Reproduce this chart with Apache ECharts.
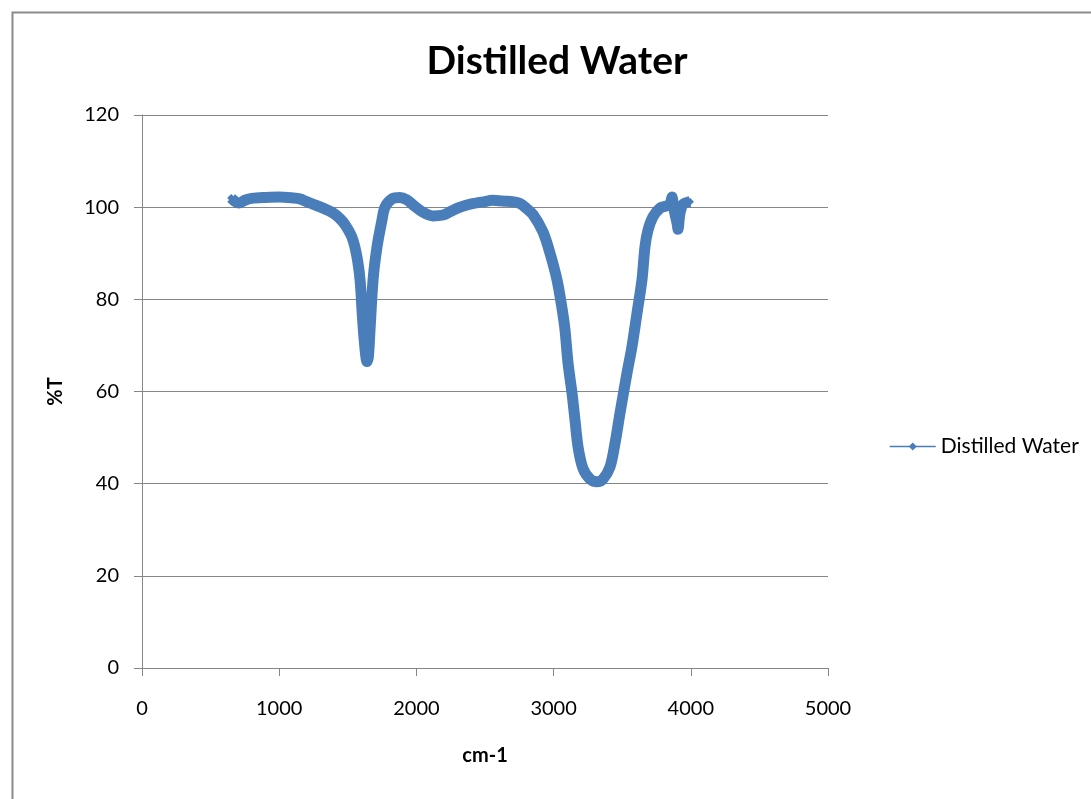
<!DOCTYPE html>
<html>
<head>
<meta charset="utf-8">
<script src="https://cdn.jsdelivr.net/npm/echarts@6/dist/echarts.min.js"></script>
<style>
html,body{margin:0;padding:0;background:#fff;}
#chart{width:1091px;height:799px;}
</style>
</head>
<body>
<div id="chart"></div>
<script>
const titleText = "Distilled Water";
const seriesName = "Distilled Water";
const xName = "cm-1";
const yName = "%T";
const wavenumber = [650,680,710,750,800,900,1000,1100,1150,1200,1250,1320,1390,1440,1480,1530,1565,1590,1605,1620,1640,1650,1662,1684,1713,1749,1771,1822,1880,1930,1975,2048,2121,2194,2245,2300,2350,2400,2450,2500,2550,2600,2650,2700,2755,2800,2850,2923,2974,3025,3060,3083,3105,3134,3156,3178,3214,3265,3316,3360,3411,3448,3484,3535,3571,3608,3644,3666,3688,3724,3776,3827,3850,3863,3875,3885,3900,3907,3920,3943,3994];
const transmittance = [102.0,101.2,100.9,101.5,101.9,102.1,102.2,102.0,101.8,101.2,100.6,99.8,98.8,97.6,96.2,93.5,89.5,84,77,71,66.5,67.5,73.4,84.2,91.4,97.2,100,101.8,102.1,101.6,100.5,98.9,98.1,98.3,99.0,99.8,100.3,100.7,101.0,101.2,101.5,101.4,101.3,101.2,100.8,99.8,98.4,94.6,90,84.2,78.3,73.4,66.2,59.7,53.8,48,43.3,41.0,40.4,41.0,43.6,48.8,55.3,64,69.7,77,84.2,91.4,95,97.9,99.8,100.3,100.8,102.2,100.0,98.5,96.5,95.2,98.5,100.6,101.2];

const pts = wavenumber.map((w, i) => [w, transmittance[i]]);
const FONT = 'Lato';
const chart = echarts.init(document.getElementById('chart'));
chart.setOption({
  animation: false,
  backgroundColor: '#fff',
  textStyle: {fontFamily: FONT},
  graphic: [{
    type: 'rect', left: 10, top: 10, z: -1,
    shape: {width: 1200, height: 900},
    style: {fill: 'none', stroke: '#8a8a8a', lineWidth: 2}
  }],
  title: {
    text: titleText, left: 552, top: 37, textAlign: 'center',
    textStyle: {fontFamily: FONT, fontWeight: 'bold', fontSize: 39, color: '#000'}
  },
  legend: {
    data: [seriesName], left: 884, top: 431, itemWidth: 46, itemHeight: 10, itemGap: 4,
    textStyle: {fontFamily: FONT, fontSize: 21, color: '#000'},
    lineStyle: {width: 1.5}, itemStyle: {borderWidth: 0}
  },
  grid: {left: 142, right: 263, top: 115, bottom: 131},
  xAxis: {
    type: 'value', min: 0, max: 5000, interval: 1000,
    name: xName, nameLocation: 'middle', nameGap: 78,
    nameTextStyle: {fontFamily: FONT, fontWeight: 'bold', fontSize: 20, color: '#000'},
    axisLine: {show: true, onZero: false, lineStyle: {color: '#868686', width: 1}},
    axisTick: {show: true, length: 8, lineStyle: {color: '#868686'}},
    axisLabel: {fontFamily: FONT, fontSize: 20, color: '#000', margin: 31, formatter: v => String(v)},
    splitLine: {show: false}
  },
  yAxis: {
    type: 'value', min: 0, max: 120, interval: 20,
    name: yName, nameLocation: 'middle', nameGap: 76, nameRotate: 90,
    nameTextStyle: {fontFamily: FONT, fontWeight: 'bold', fontSize: 20, color: '#000'},
    axisLine: {show: true, lineStyle: {color: '#868686', width: 1}},
    axisTick: {show: true, length: 8, lineStyle: {color: '#868686'}},
    axisLabel: {fontFamily: FONT, fontSize: 20, color: '#000', margin: 23},
    splitLine: {show: true, lineStyle: {color: '#868686', width: 1}}
  },
  series: [{
    name: seriesName, type: 'line', data: pts, smooth: 0.3,
    symbol: 'diamond', symbolSize: 8, showSymbol: true,
    itemStyle: {color: '#4a7ebb'},
    lineStyle: {color: '#4a7ebb', width: 11}
  }]
});
</script>
</body>
</html>
